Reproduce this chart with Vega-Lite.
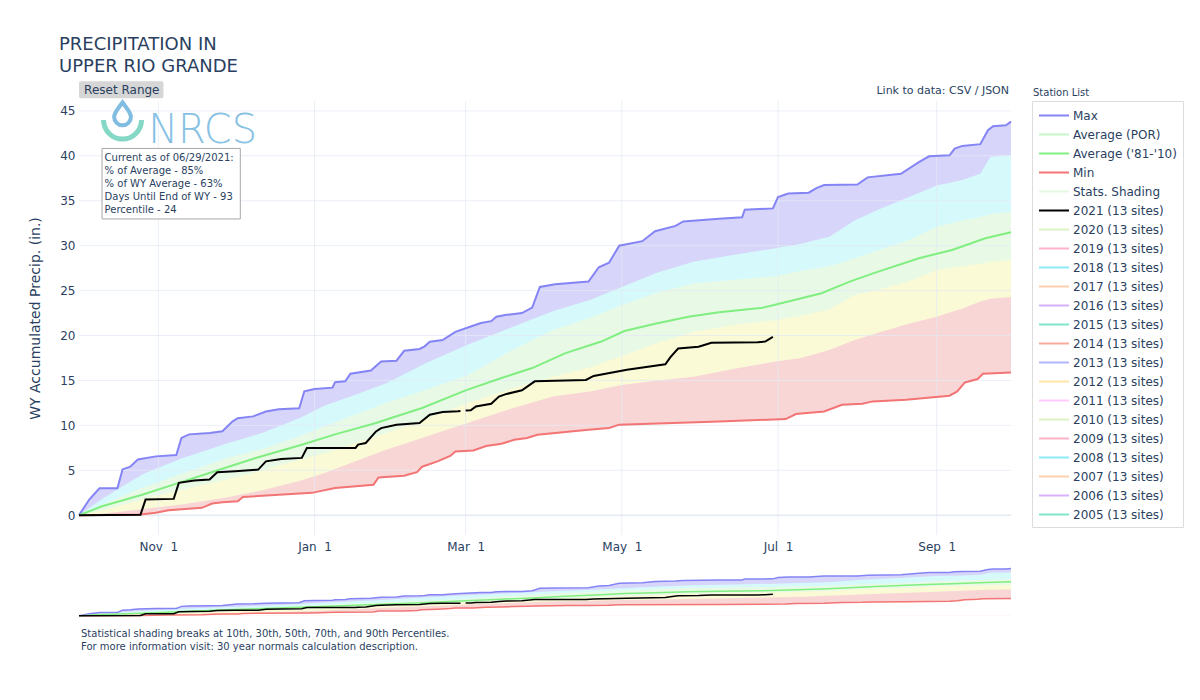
{
"$schema": "https://vega.github.io/schema/vega-lite/v6.json",
"padding": {"left": 28, "top": 36, "right": 4, "bottom": 4},
"background": "white",
"config": {"view": {"stroke": null}, "font": "DejaVu Sans"},
"title": {"text": ["PRECIPITATION IN", "UPPER RIO GRANDE"], "anchor": "start", "frame": "group", "dx": -20, "fontSize": 18, "fontWeight": "normal", "color": "#2a3f5f", "lineHeight": 22, "offset": 5, "font": "DejaVu Sans"},
"datasets": {
"curves": [
{"s":"Max","d":"2020-10-01","v":0},{"s":"Max","d":"2020-10-05","v":1.75},{"s":"Max","d":"2020-10-09","v":3.0},{"s":"Max","d":"2020-10-16","v":3.0},{"s":"Max","d":"2020-10-18","v":5.1},{"s":"Max","d":"2020-10-21","v":5.4},{"s":"Max","d":"2020-10-24","v":6.2},{"s":"Max","d":"2020-10-31","v":6.55},{"s":"Max","d":"2020-11-08","v":6.7},{"s":"Max","d":"2020-11-10","v":8.6},{"s":"Max","d":"2020-11-13","v":9.0},{"s":"Max","d":"2020-11-21","v":9.15},{"s":"Max","d":"2020-11-26","v":9.35},{"s":"Max","d":"2020-11-30","v":10.45},{"s":"Max","d":"2020-12-02","v":10.8},{"s":"Max","d":"2020-12-08","v":11.0},{"s":"Max","d":"2020-12-13","v":11.55},{"s":"Max","d":"2020-12-18","v":11.8},{"s":"Max","d":"2020-12-26","v":11.9},{"s":"Max","d":"2020-12-28","v":13.8},{"s":"Max","d":"2021-01-01","v":14.05},{"s":"Max","d":"2021-01-08","v":14.2},{"s":"Max","d":"2021-01-09","v":14.8},{"s":"Max","d":"2021-01-13","v":14.9},{"s":"Max","d":"2021-01-15","v":15.75},{"s":"Max","d":"2021-01-23","v":16.1},{"s":"Max","d":"2021-01-27","v":17.1},{"s":"Max","d":"2021-02-02","v":17.2},{"s":"Max","d":"2021-02-05","v":18.3},{"s":"Max","d":"2021-02-11","v":18.5},{"s":"Max","d":"2021-02-13","v":18.8},{"s":"Max","d":"2021-02-15","v":19.3},{"s":"Max","d":"2021-02-20","v":19.5},{"s":"Max","d":"2021-02-25","v":20.4},{"s":"Max","d":"2021-03-03","v":21.0},{"s":"Max","d":"2021-03-07","v":21.4},{"s":"Max","d":"2021-03-11","v":21.6},{"s":"Max","d":"2021-03-13","v":22.1},{"s":"Max","d":"2021-03-17","v":22.3},{"s":"Max","d":"2021-03-23","v":22.5},{"s":"Max","d":"2021-03-27","v":23.1},{"s":"Max","d":"2021-03-30","v":25.4},{"s":"Max","d":"2021-04-05","v":25.7},{"s":"Max","d":"2021-04-18","v":26.0},{"s":"Max","d":"2021-04-22","v":27.6},{"s":"Max","d":"2021-04-26","v":28.1},{"s":"Max","d":"2021-04-30","v":30.0},{"s":"Max","d":"2021-05-09","v":30.5},{"s":"Max","d":"2021-05-14","v":31.6},{"s":"Max","d":"2021-05-22","v":32.2},{"s":"Max","d":"2021-05-25","v":32.7},{"s":"Max","d":"2021-06-08","v":33.0},{"s":"Max","d":"2021-06-17","v":33.15},{"s":"Max","d":"2021-06-18","v":34.0},{"s":"Max","d":"2021-06-29","v":34.15},{"s":"Max","d":"2021-07-01","v":35.4},{"s":"Max","d":"2021-07-05","v":35.8},{"s":"Max","d":"2021-07-13","v":35.9},{"s":"Max","d":"2021-07-16","v":36.4},{"s":"Max","d":"2021-07-19","v":36.75},{"s":"Max","d":"2021-08-01","v":36.8},{"s":"Max","d":"2021-08-05","v":37.6},{"s":"Max","d":"2021-08-18","v":38.0},{"s":"Max","d":"2021-08-25","v":39.3},{"s":"Max","d":"2021-08-29","v":39.95},{"s":"Max","d":"2021-09-06","v":40.05},{"s":"Max","d":"2021-09-08","v":40.8},{"s":"Max","d":"2021-09-11","v":41.1},{"s":"Max","d":"2021-09-18","v":41.3},{"s":"Max","d":"2021-09-21","v":42.85},{"s":"Max","d":"2021-09-23","v":43.3},{"s":"Max","d":"2021-09-28","v":43.4},{"s":"Max","d":"2021-09-30","v":43.8},
{"s":"P90","d":"2020-10-01","v":0},{"s":"P90","d":"2020-10-11","v":2.0},{"s":"P90","d":"2020-10-26","v":4.6},{"s":"P90","d":"2020-11-10","v":6.3},{"s":"P90","d":"2020-11-28","v":8.0},{"s":"P90","d":"2020-12-12","v":9.2},{"s":"P90","d":"2020-12-26","v":10.8},{"s":"P90","d":"2021-01-05","v":12.2},{"s":"P90","d":"2021-01-17","v":13.4},{"s":"P90","d":"2021-01-29","v":14.7},{"s":"P90","d":"2021-02-14","v":17.0},{"s":"P90","d":"2021-03-02","v":19.0},{"s":"P90","d":"2021-03-18","v":20.8},{"s":"P90","d":"2021-04-04","v":22.7},{"s":"P90","d":"2021-04-19","v":24.0},{"s":"P90","d":"2021-05-01","v":25.4},{"s":"P90","d":"2021-05-15","v":27.0},{"s":"P90","d":"2021-05-29","v":28.2},{"s":"P90","d":"2021-06-14","v":29.0},{"s":"P90","d":"2021-06-30","v":29.7},{"s":"P90","d":"2021-07-10","v":30.2},{"s":"P90","d":"2021-07-21","v":31.0},{"s":"P90","d":"2021-07-31","v":32.8},{"s":"P90","d":"2021-08-09","v":34.0},{"s":"P90","d":"2021-08-21","v":35.4},{"s":"P90","d":"2021-09-01","v":36.7},{"s":"P90","d":"2021-09-11","v":37.3},{"s":"P90","d":"2021-09-18","v":38.0},{"s":"P90","d":"2021-09-22","v":39.9},{"s":"P90","d":"2021-09-30","v":40.1},
{"s":"P70","d":"2020-10-01","v":0},{"s":"P70","d":"2020-10-11","v":1.3},{"s":"P70","d":"2020-10-26","v":3.1},{"s":"P70","d":"2020-11-10","v":4.6},{"s":"P70","d":"2020-11-28","v":6.4},{"s":"P70","d":"2020-12-12","v":7.4},{"s":"P70","d":"2020-12-26","v":8.8},{"s":"P70","d":"2021-01-05","v":9.9},{"s":"P70","d":"2021-01-17","v":11.2},{"s":"P70","d":"2021-01-29","v":12.5},{"s":"P70","d":"2021-02-14","v":14.0},{"s":"P70","d":"2021-03-02","v":15.6},{"s":"P70","d":"2021-03-18","v":18.2},{"s":"P70","d":"2021-04-04","v":20.6},{"s":"P70","d":"2021-04-19","v":22.0},{"s":"P70","d":"2021-05-01","v":23.4},{"s":"P70","d":"2021-05-15","v":24.8},{"s":"P70","d":"2021-05-29","v":25.8},{"s":"P70","d":"2021-06-14","v":26.2},{"s":"P70","d":"2021-06-30","v":26.6},{"s":"P70","d":"2021-07-10","v":27.2},{"s":"P70","d":"2021-07-21","v":27.7},{"s":"P70","d":"2021-07-31","v":28.6},{"s":"P70","d":"2021-08-09","v":29.5},{"s":"P70","d":"2021-08-21","v":30.6},{"s":"P70","d":"2021-09-01","v":32.1},{"s":"P70","d":"2021-09-11","v":32.8},{"s":"P70","d":"2021-09-18","v":33.2},{"s":"P70","d":"2021-09-22","v":33.5},{"s":"P70","d":"2021-09-30","v":33.8},
{"s":"P30","d":"2020-10-01","v":0},{"s":"P30","d":"2020-10-11","v":0.6},{"s":"P30","d":"2020-10-26","v":1.8},{"s":"P30","d":"2020-11-10","v":2.8},{"s":"P30","d":"2020-11-28","v":4.0},{"s":"P30","d":"2020-12-12","v":5.0},{"s":"P30","d":"2020-12-26","v":6.2},{"s":"P30","d":"2021-01-05","v":6.9},{"s":"P30","d":"2021-01-17","v":8.0},{"s":"P30","d":"2021-01-29","v":9.15},{"s":"P30","d":"2021-02-14","v":10.8},{"s":"P30","d":"2021-03-02","v":12.5},{"s":"P30","d":"2021-03-18","v":14.0},{"s":"P30","d":"2021-04-04","v":15.4},{"s":"P30","d":"2021-04-19","v":16.5},{"s":"P30","d":"2021-05-01","v":17.7},{"s":"P30","d":"2021-05-15","v":19.2},{"s":"P30","d":"2021-05-29","v":20.4},{"s":"P30","d":"2021-06-14","v":21.2},{"s":"P30","d":"2021-06-30","v":21.7},{"s":"P30","d":"2021-07-10","v":22.2},{"s":"P30","d":"2021-07-21","v":22.9},{"s":"P30","d":"2021-07-31","v":24.5},{"s":"P30","d":"2021-08-09","v":25.1},{"s":"P30","d":"2021-08-21","v":26.0},{"s":"P30","d":"2021-09-01","v":27.3},{"s":"P30","d":"2021-09-11","v":27.7},{"s":"P30","d":"2021-09-18","v":28.0},{"s":"P30","d":"2021-09-22","v":28.2},{"s":"P30","d":"2021-09-30","v":28.4},
{"s":"P10","d":"2020-10-01","v":0},{"s":"P10","d":"2020-10-11","v":0.2},{"s":"P10","d":"2020-10-26","v":0.7},{"s":"P10","d":"2020-11-10","v":1.2},{"s":"P10","d":"2020-11-28","v":2.0},{"s":"P10","d":"2020-12-12","v":2.8},{"s":"P10","d":"2020-12-26","v":3.8},{"s":"P10","d":"2021-01-05","v":4.7},{"s":"P10","d":"2021-01-17","v":6.0},{"s":"P10","d":"2021-01-29","v":7.3},{"s":"P10","d":"2021-02-14","v":8.8},{"s":"P10","d":"2021-03-02","v":10.3},{"s":"P10","d":"2021-03-18","v":11.8},{"s":"P10","d":"2021-04-04","v":13.2},{"s":"P10","d":"2021-04-19","v":13.8},{"s":"P10","d":"2021-05-01","v":14.5},{"s":"P10","d":"2021-05-15","v":15.0},{"s":"P10","d":"2021-05-29","v":15.4},{"s":"P10","d":"2021-06-14","v":16.3},{"s":"P10","d":"2021-06-30","v":17.1},{"s":"P10","d":"2021-07-10","v":17.5},{"s":"P10","d":"2021-07-21","v":18.4},{"s":"P10","d":"2021-07-31","v":19.5},{"s":"P10","d":"2021-08-09","v":20.3},{"s":"P10","d":"2021-08-21","v":21.3},{"s":"P10","d":"2021-09-01","v":22.1},{"s":"P10","d":"2021-09-11","v":23.0},{"s":"P10","d":"2021-09-18","v":23.8},{"s":"P10","d":"2021-09-22","v":24.1},{"s":"P10","d":"2021-09-30","v":24.3},
{"s":"Min","d":"2020-10-01","v":0},{"s":"Min","d":"2020-10-25","v":0.08},{"s":"Min","d":"2020-10-31","v":0.27},{"s":"Min","d":"2020-11-05","v":0.56},{"s":"Min","d":"2020-11-18","v":0.82},{"s":"Min","d":"2020-11-22","v":1.3},{"s":"Min","d":"2020-11-26","v":1.45},{"s":"Min","d":"2020-12-02","v":1.56},{"s":"Min","d":"2020-12-04","v":2.04},{"s":"Min","d":"2020-12-31","v":2.49},{"s":"Min","d":"2021-01-09","v":3.04},{"s":"Min","d":"2021-01-24","v":3.4},{"s":"Min","d":"2021-01-26","v":4.2},{"s":"Min","d":"2021-02-05","v":4.4},{"s":"Min","d":"2021-02-10","v":4.8},{"s":"Min","d":"2021-02-12","v":5.4},{"s":"Min","d":"2021-02-18","v":6.0},{"s":"Min","d":"2021-02-23","v":6.6},{"s":"Min","d":"2021-02-25","v":7.1},{"s":"Min","d":"2021-03-04","v":7.2},{"s":"Min","d":"2021-03-09","v":7.7},{"s":"Min","d":"2021-03-15","v":7.95},{"s":"Min","d":"2021-03-20","v":8.4},{"s":"Min","d":"2021-03-25","v":8.6},{"s":"Min","d":"2021-03-29","v":8.95},{"s":"Min","d":"2021-04-10","v":9.3},{"s":"Min","d":"2021-04-18","v":9.52},{"s":"Min","d":"2021-04-26","v":9.7},{"s":"Min","d":"2021-04-30","v":10.08},{"s":"Min","d":"2021-06-08","v":10.44},{"s":"Min","d":"2021-07-04","v":10.7},{"s":"Min","d":"2021-07-08","v":11.26},{"s":"Min","d":"2021-07-19","v":11.55},{"s":"Min","d":"2021-07-26","v":12.3},{"s":"Min","d":"2021-08-03","v":12.4},{"s":"Min","d":"2021-08-07","v":12.67},{"s":"Min","d":"2021-08-20","v":12.86},{"s":"Min","d":"2021-09-06","v":13.3},{"s":"Min","d":"2021-09-09","v":13.78},{"s":"Min","d":"2021-09-12","v":14.78},{"s":"Min","d":"2021-09-17","v":15.16},{"s":"Min","d":"2021-09-19","v":15.74},{"s":"Min","d":"2021-09-30","v":15.89},
{"s":"Avg","d":"2020-10-01","v":0},{"s":"Avg","d":"2020-10-10","v":1.0},{"s":"Avg","d":"2020-10-26","v":2.3},{"s":"Avg","d":"2020-11-09","v":3.6},{"s":"Avg","d":"2020-11-23","v":4.9},{"s":"Avg","d":"2020-12-09","v":6.37},{"s":"Avg","d":"2020-12-27","v":7.85},{"s":"Avg","d":"2021-01-09","v":9.0},{"s":"Avg","d":"2021-01-25","v":10.27},{"s":"Avg","d":"2021-01-30","v":10.74},{"s":"Avg","d":"2021-02-12","v":11.93},{"s":"Avg","d":"2021-03-01","v":13.9},{"s":"Avg","d":"2021-03-15","v":15.27},{"s":"Avg","d":"2021-03-27","v":16.38},{"s":"Avg","d":"2021-04-09","v":18.04},{"s":"Avg","d":"2021-04-23","v":19.33},{"s":"Avg","d":"2021-05-02","v":20.5},{"s":"Avg","d":"2021-05-14","v":21.3},{"s":"Avg","d":"2021-05-27","v":22.1},{"s":"Avg","d":"2021-06-08","v":22.6},{"s":"Avg","d":"2021-06-25","v":23.1},{"s":"Avg","d":"2021-07-05","v":23.78},{"s":"Avg","d":"2021-07-18","v":24.7},{"s":"Avg","d":"2021-07-29","v":26.0},{"s":"Avg","d":"2021-08-08","v":27.0},{"s":"Avg","d":"2021-08-25","v":28.6},{"s":"Avg","d":"2021-09-07","v":29.52},{"s":"Avg","d":"2021-09-20","v":30.82},{"s":"Avg","d":"2021-09-30","v":31.49}
],
"y21": [
{"d":"2020-10-01","v":0},{"d":"2020-10-25","v":0.05},{"d":"2020-10-27","v":1.74},{"d":"2020-11-07","v":1.82},{"d":"2020-11-09","v":3.6},{"d":"2020-11-15","v":3.86},{"d":"2020-11-21","v":3.97},{"d":"2020-11-24","v":4.78},{"d":"2020-12-01","v":4.9},{"d":"2020-12-10","v":5.08},{"d":"2020-12-13","v":6.0},{"d":"2020-12-19","v":6.27},{"d":"2020-12-27","v":6.38},{"d":"2020-12-29","v":7.49},{"d":"2021-01-17","v":7.49},{"d":"2021-01-18","v":7.86},{"d":"2021-01-21","v":8.04},{"d":"2021-01-25","v":9.33},{"d":"2021-01-27","v":9.7},{"d":"2021-02-02","v":10.08},{"d":"2021-02-11","v":10.27},{"d":"2021-02-15","v":11.19},{"d":"2021-02-20","v":11.5},{"d":"2021-02-26","v":11.56},{"d":"2021-02-27","v":11.6},{"d":"2021-02-28","v":null},{"d":"2021-03-01","v":11.65},{"d":"2021-03-03","v":11.67},{"d":"2021-03-05","v":12.1},{"d":"2021-03-11","v":12.4},{"d":"2021-03-14","v":13.2},{"d":"2021-03-17","v":13.5},{"d":"2021-03-23","v":13.9},{"d":"2021-03-28","v":14.9},{"d":"2021-04-17","v":15.05},{"d":"2021-04-20","v":15.5},{"d":"2021-05-03","v":16.2},{"d":"2021-05-18","v":16.8},{"d":"2021-05-20","v":17.6},{"d":"2021-05-23","v":18.56},{"d":"2021-05-31","v":18.75},{"d":"2021-06-05","v":19.2},{"d":"2021-06-23","v":19.26},{"d":"2021-06-26","v":19.33},{"d":"2021-06-29","v":19.85}
],
"names": [
{"s":"Max"},{"s":"Average (POR)"},{"s":"Average ('81-'10)"},{"s":"Min"},{"s":"Stats. Shading"},{"s":"2021 (13 sites)"},{"s":"2020 (13 sites)"},{"s":"2019 (13 sites)"},{"s":"2018 (13 sites)"},{"s":"2017 (13 sites)"},{"s":"2016 (13 sites)"},{"s":"2015 (13 sites)"},{"s":"2014 (13 sites)"},{"s":"2013 (13 sites)"},{"s":"2012 (13 sites)"},{"s":"2011 (13 sites)"},{"s":"2010 (13 sites)"},{"s":"2009 (13 sites)"},{"s":"2008 (13 sites)"},{"s":"2007 (13 sites)"},{"s":"2006 (13 sites)"},{"s":"2005 (13 sites)"}
]
},
"columns": 2,
"spacing": {"row": 13, "column": 13},
"resolve": {"scale": {"x": "independent", "y": "independent", "color": "independent"}},
"concat": [
{
"width": 932, "height": 434,
"layer": [
{"data": {"name": "curves"}, "transform": [{"filter": "datum.s === 'Max'"}], "mark": {"type": "area", "color": "#d7d5fa"},
 "encoding": {
  "x": {"field": "d", "type": "temporal", "scale": {"type": "utc", "domain": [{"year":2020,"month":10,"date":1,"utc":true},{"year":2021,"month":9,"date":30,"utc":true}]},
        "axis": {"title": null, "values": [{"year":2020,"month":11,"date":1,"utc":true},{"year":2021,"month":1,"date":1,"utc":true},{"year":2021,"month":3,"date":1,"utc":true},{"year":2021,"month":5,"date":1,"utc":true},{"year":2021,"month":7,"date":1,"utc":true},{"year":2021,"month":9,"date":1,"utc":true}], "labelExpr": "utcFormat(datum.value, '%b') + '\u00a0\u00a0' + utcFormat(datum.value, '%-d')", "grid": false, "domain": false, "ticks": false, "labelFontSize": 12, "labelColor": "#2a3f5f", "labelPadding": 6, "labelFont": "DejaVu Sans"}},
  "y": {"field": "v", "type": "quantitative", "scale": {"domain": [-2.2, 46.1], "nice": false, "zero": false},
        "axis": {"title": "WY Accumulated Precip. (in.)", "values": [0,5,10,15,20,25,30,35,40,45], "grid": false, "domain": false, "ticks": false, "labelFontSize": 12, "labelColor": "#2a3f5f", "labelPadding": 4, "labelFont": "DejaVu Sans", "titleFontSize": 14, "titleFontWeight": "normal", "titleColor": "#2a3f5f", "titleFont": "DejaVu Sans", "titlePadding": 17}},
  "y2": {"datum": 0}}},
{"data": {"name": "curves"}, "transform": [{"filter": "datum.s === 'P90'"}], "mark": {"type": "area", "color": "#d6fafc"}, "encoding": {"x": {"field": "d", "type": "temporal"}, "y": {"field": "v", "type": "quantitative"}, "y2": {"datum": 0}}},
{"data": {"name": "curves"}, "transform": [{"filter": "datum.s === 'P70'"}], "mark": {"type": "area", "color": "#e8fae6"}, "encoding": {"x": {"field": "d", "type": "temporal"}, "y": {"field": "v", "type": "quantitative"}, "y2": {"datum": 0}}},
{"data": {"name": "curves"}, "transform": [{"filter": "datum.s === 'P30'"}], "mark": {"type": "area", "color": "#fafad7"}, "encoding": {"x": {"field": "d", "type": "temporal"}, "y": {"field": "v", "type": "quantitative"}, "y2": {"datum": 0}}},
{"data": {"name": "curves"}, "transform": [{"filter": "datum.s === 'P10'"}], "mark": {"type": "area", "color": "#f9d6d6"}, "encoding": {"x": {"field": "d", "type": "temporal"}, "y": {"field": "v", "type": "quantitative"}, "y2": {"datum": 0}}},
{"data": {"name": "curves"}, "transform": [{"filter": "datum.s === 'Min'"}], "mark": {"type": "area", "color": "#ffffff"}, "encoding": {"x": {"field": "d", "type": "temporal"}, "y": {"field": "v", "type": "quantitative"}, "y2": {"datum": 0}}},
{"data": {"values": [{"v":5},{"v":10},{"v":15},{"v":20},{"v":25},{"v":30},{"v":35},{"v":40},{"v":45}]}, "mark": {"type": "rule", "color": "#e3e9f4", "opacity": 0.75, "strokeWidth": 1}, "encoding": {"y": {"field": "v", "type": "quantitative"}}},
{"data": {"values": [{"v":0}]}, "mark": {"type": "rule", "color": "#e3e9f4", "opacity": 0.75, "strokeWidth": 2}, "encoding": {"y": {"field": "v", "type": "quantitative"}}},
{"data": {"values": [{"d":"2020-11-01"},{"d":"2021-01-01"},{"d":"2021-03-01"},{"d":"2021-05-01"},{"d":"2021-07-01"},{"d":"2021-09-01"}]}, "mark": {"type": "rule", "color": "#e3e9f4", "opacity": 0.75, "strokeWidth": 1}, "encoding": {"x": {"field": "d", "type": "temporal"}}},
{"data": {"name": "curves"}, "transform": [{"filter": "datum.s === 'Max'"}], "mark": {"type": "line", "color": "#8484f5", "strokeWidth": 2}, "encoding": {"x": {"field": "d", "type": "temporal"}, "y": {"field": "v", "type": "quantitative"}}},
{"data": {"name": "curves"}, "transform": [{"filter": "datum.s === 'Min'"}], "mark": {"type": "line", "color": "#f37474", "strokeWidth": 2}, "encoding": {"x": {"field": "d", "type": "temporal"}, "y": {"field": "v", "type": "quantitative"}}},
{"data": {"name": "curves"}, "transform": [{"filter": "datum.s === 'Avg'"}], "mark": {"type": "line", "color": "#80ee80", "strokeWidth": 2}, "encoding": {"x": {"field": "d", "type": "temporal"}, "y": {"field": "v", "type": "quantitative"}}},
{"data": {"name": "y21"}, "mark": {"type": "line", "color": "#000000", "strokeWidth": 2}, "encoding": {"x": {"field": "d", "type": "temporal"}, "y": {"field": "v", "type": "quantitative"}}},
{"data": {"values": [{}]}, "mark": {"type": "rect", "color": "#d6d6d6", "cornerRadius": 2}, "encoding": {"x": {"datum": {"year":2020,"month":10,"date":1,"utc":true}, "type": "temporal"}, "x2": {"datum": {"year":2020,"month":11,"date":3,"utc":true}}, "y": {"datum": 48.3}, "y2": {"datum": 46.4}}},
{"data": {"values": [{"t": "Reset Range"}]}, "mark": {"type": "text", "align": "left", "baseline": "middle", "fontSize": 12, "color": "#2a3f5f", "font": "DejaVu Sans"}, "encoding": {"x": {"datum": {"year":2020,"month":10,"date":3,"utc":true}, "type": "temporal"}, "y": {"datum": 47.35}, "text": {"field": "t"}}},
{"data": {"values": [{"t": "Link to data: CSV / JSON"}]}, "mark": {"type": "text", "align": "right", "baseline": "middle", "dx": -2, "fontSize": 11, "color": "#2a3f5f", "font": "DejaVu Sans"}, "encoding": {"x": {"datum": {"year":2021,"month":9,"date":30,"utc":true}, "type": "temporal"}, "y": {"datum": 47.2}, "text": {"field": "t"}}},
{"data": {"values": [{"t": "NRCS"}]}, "mark": {"type": "text", "align": "left", "baseline": "alphabetic", "fontSize": 40, "fontWeight": 200, "color": "#86c1e4", "font": "DejaVu Sans"}, "encoding": {"x": {"datum": {"year":2020,"month":10,"date":28,"utc":true}, "type": "temporal"}, "y": {"datum": 41.4}, "text": {"field": "t"}}},
{"data": {"values": [{}]}, "mark": {"type": "point", "shape": "M-1,0.15 A1,1 0 0 0 1,0.15", "size": 1444, "filled": false, "color": "#86d8c6", "strokeWidth": 5, "opacity": 1}, "encoding": {"x": {"datum": {"year":2020,"month":10,"date":18,"utc":true}, "type": "temporal"}, "y": {"datum": 44.3}}},
{"data": {"values": [{}]}, "mark": {"type": "point", "shape": "M0,-1 C0.35,-0.5 0.75,-0.1 0.75,0.3 A0.75,0.75 0 1 1 -0.75,0.3 C-0.75,-0.1 -0.35,-0.5 0,-1 Z", "size": 500, "filled": false, "color": "#80bde0", "strokeWidth": 4, "opacity": 1}, "encoding": {"x": {"datum": {"year":2020,"month":10,"date":18,"utc":true}, "type": "temporal"}, "y": {"datum": 44.7}}},
{"data": {"values": [{}]}, "mark": {"type": "rect", "fill": "#ffffff", "stroke": "#a8a8a8", "strokeWidth": 1}, "encoding": {"x": {"datum": {"year":2020,"month":10,"date":10,"utc":true}, "type": "temporal"}, "x2": {"datum": {"year":2020,"month":12,"date":3,"utc":true}}, "y": {"datum": 40.82}, "y2": {"datum": 32.97}}},
{"data": {"values": [{"t": ["Current as of 06/29/2021:", "% of Average - 85%", "% of WY Average - 63%", "Days Until End of WY - 93", "Percentile - 24"]}]}, "mark": {"type": "text", "align": "left", "baseline": "middle", "fontSize": 10, "lineHeight": 13, "color": "#2a3f5f", "font": "DejaVu Sans"}, "encoding": {"x": {"datum": {"year":2020,"month":10,"date":11,"utc":true}, "type": "temporal"}, "y": {"datum": 39.78}, "text": {"field": "t"}}}
]
},
{
"width": 1, "height": 434,
"title": {"text": "Station List", "anchor": "start", "frame": "group", "dx": 2, "fontSize": 10, "fontWeight": "normal", "color": "#2a3f5f", "offset": 3, "font": "DejaVu Sans"},
"data": {"name": "names"},
"mark": {"type": "point", "filled": false, "opacity": 0},
"encoding": {
 "color": {"field": "s", "type": "nominal",
  "scale": {"domain": ["Max","Average (POR)","Average ('81-'10)","Min","Stats. Shading","2021 (13 sites)","2020 (13 sites)","2019 (13 sites)","2018 (13 sites)","2017 (13 sites)","2016 (13 sites)","2015 (13 sites)","2014 (13 sites)","2013 (13 sites)","2012 (13 sites)","2011 (13 sites)","2010 (13 sites)","2009 (13 sites)","2008 (13 sites)","2007 (13 sites)","2006 (13 sites)","2005 (13 sites)"],
            "range": ["#8484f5","#c9f5c9","#80ee80","#f37474","#e4f9e2","#000000","#dbf3c0","#ffb3c8","#8ce9f9","#ffd0ad","#d5b1fd","#80e5ca","#f7aa9d","#b1b6fc","#ffe5a9","#ffcbff","#dbf3c0","#ffb3c8","#8ce9f9","#ffd0ad","#d5b1fd","#80e5ca"]},
  "legend": {"title": null, "orient": "right", "offset": 0, "padding": 6, "rowPadding": 4, "symbolSize": 225, "symbolStrokeWidth": 2, "symbolOpacity": 1, "symbolType": "M-1,0H3",
   "labelFont": "DejaVu Sans", "labelFontSize": 12, "labelColor": "#2a3f5f", "labelOffset": 18, "labelLimit": 200, "strokeColor": "#dcdcdc",
   "encode": {
    "legend": {"update": {"strokeWidth": {"value": 2}}},
    "symbols": {"update": {
      "shape": {"signal": "datum.label === 'Stats. Shading' ? 'M-1,-0.47H3V0.47H-1Z' : 'M-1,0H3'"},
      "fill": {"signal": "datum.label === 'Stats. Shading' ? '#e4f9e2' : 'transparent'"},
      "strokeDash": {"signal": "datum.label === 'Average (POR)' ? [8,7] : [1,0]"},
      "opacity": {"value": 1}}},
    "labels": {"update": {"fill": {"signal": "(datum.label === 'Average (POR)' || (indexof(datum.label, '20') === 0 && datum.label !== '2021 (13 sites)')) ? '#a6aebd' : '#2a3f5f'"}}}
   }}}
}
},
{
"width": 932, "height": 52,
"title": {"text": ["Statistical shading breaks at 10th, 30th, 50th, 70th, and 90th Percentiles.", "For more information visit: 30 year normals calculation description."], "orient": "bottom", "anchor": "start", "frame": "group", "dx": 2, "fontSize": 10, "fontWeight": "normal", "color": "#2a3f5f", "lineHeight": 13.5, "offset": 10, "font": "DejaVu Sans"},
"layer": [
{"data": {"name": "curves"}, "transform": [{"filter": "datum.s === 'Max'"}], "mark": {"type": "area", "color": "#d7d5fa"},
 "encoding": {
  "x": {"field": "d", "type": "temporal", "scale": {"type": "utc", "domain": [{"year":2020,"month":10,"date":1,"utc":true},{"year":2021,"month":9,"date":30,"utc":true}]}, "axis": null},
  "y": {"field": "v", "type": "quantitative", "scale": {"domain": [-2.2, 46.1], "nice": false, "zero": false}, "axis": null},
  "y2": {"datum": 0}}},
{"data": {"name": "curves"}, "transform": [{"filter": "datum.s === 'P90'"}], "mark": {"type": "area", "color": "#d6fafc"}, "encoding": {"x": {"field": "d", "type": "temporal"}, "y": {"field": "v", "type": "quantitative"}, "y2": {"datum": 0}}},
{"data": {"name": "curves"}, "transform": [{"filter": "datum.s === 'P70'"}], "mark": {"type": "area", "color": "#e8fae6"}, "encoding": {"x": {"field": "d", "type": "temporal"}, "y": {"field": "v", "type": "quantitative"}, "y2": {"datum": 0}}},
{"data": {"name": "curves"}, "transform": [{"filter": "datum.s === 'P30'"}], "mark": {"type": "area", "color": "#fafad7"}, "encoding": {"x": {"field": "d", "type": "temporal"}, "y": {"field": "v", "type": "quantitative"}, "y2": {"datum": 0}}},
{"data": {"name": "curves"}, "transform": [{"filter": "datum.s === 'P10'"}], "mark": {"type": "area", "color": "#f9d6d6"}, "encoding": {"x": {"field": "d", "type": "temporal"}, "y": {"field": "v", "type": "quantitative"}, "y2": {"datum": 0}}},
{"data": {"name": "curves"}, "transform": [{"filter": "datum.s === 'Min'"}], "mark": {"type": "area", "color": "#ffffff"}, "encoding": {"x": {"field": "d", "type": "temporal"}, "y": {"field": "v", "type": "quantitative"}, "y2": {"datum": 0}}},
{"data": {"name": "curves"}, "transform": [{"filter": "datum.s === 'Max'"}], "mark": {"type": "line", "color": "#8484f5", "strokeWidth": 1.5}, "encoding": {"x": {"field": "d", "type": "temporal"}, "y": {"field": "v", "type": "quantitative"}}},
{"data": {"name": "curves"}, "transform": [{"filter": "datum.s === 'Min'"}], "mark": {"type": "line", "color": "#f37474", "strokeWidth": 1.5}, "encoding": {"x": {"field": "d", "type": "temporal"}, "y": {"field": "v", "type": "quantitative"}}},
{"data": {"name": "curves"}, "transform": [{"filter": "datum.s === 'Avg'"}], "mark": {"type": "line", "color": "#80ee80", "strokeWidth": 1.5}, "encoding": {"x": {"field": "d", "type": "temporal"}, "y": {"field": "v", "type": "quantitative"}}},
{"data": {"name": "y21"}, "mark": {"type": "line", "color": "#000000", "strokeWidth": 1.5}, "encoding": {"x": {"field": "d", "type": "temporal"}, "y": {"field": "v", "type": "quantitative"}}}
]
}
]
}
